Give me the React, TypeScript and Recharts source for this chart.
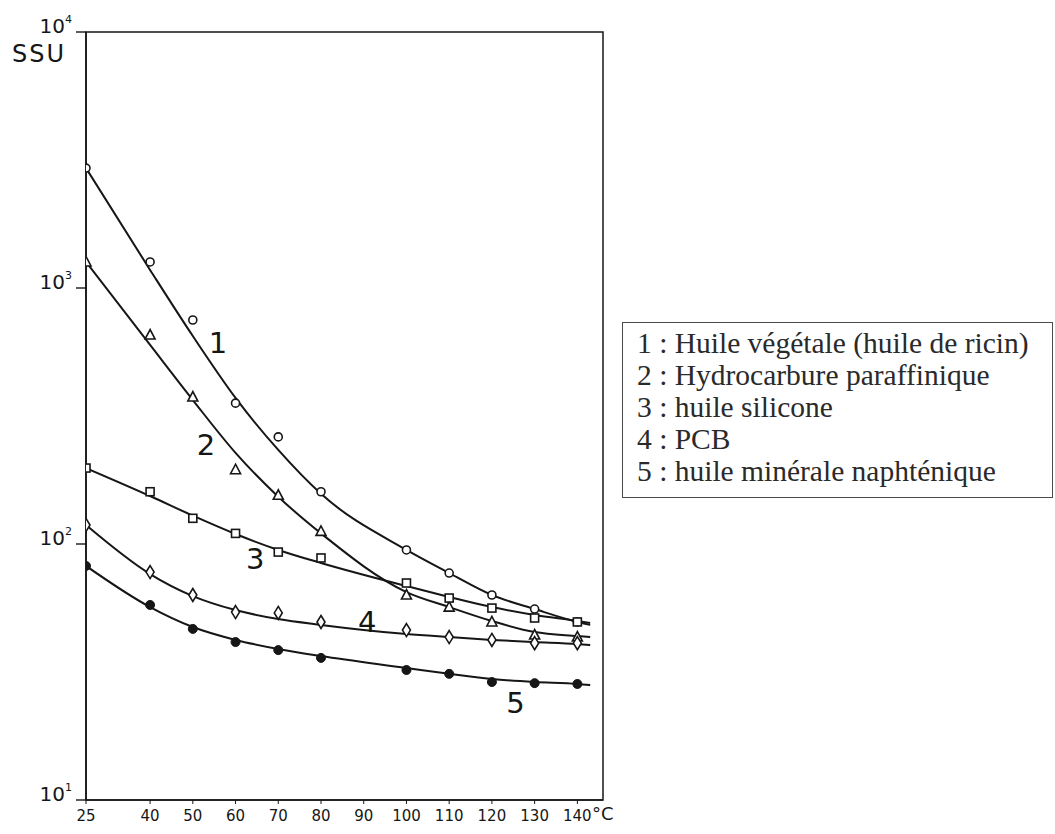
import React from "react";
import { ComposedChart, Line, XAxis, YAxis, ReferenceArea, ReferenceDot } from "recharts";

// temperatures (°C) of the measured points
const temps = [25, 40, 50, 60, 70, 80, 100, 110, 120, 130, 140];
// temperatures at which the hand-drawn curves were read
const curveTemps = [25, 40, 50, 60, 70, 80, 100, 110, 120, 130, 140, 143];

const xTicks = [25, 40, 50, 60, 70, 80, 90, 100, 110, 120, 130, 140];
const yTicks = [10, 100, 1000, 10000];

// measured viscosities (SSU)
const ricinPts = [2940, 1264, 750, 355, 262, 160, 94.8, 77, 63.2, 55.7, 49.6];
const paraffinPts = [1264, 655, 375, 195, 155, 112, 63.2, 56.7, 49.6, 44.1, 43.3];
const siliconePts = [198, 160, 126, 110, 93, 88.2, 70.4, 61.5, 56.2, 51.4, 49.6];
const pcbPts = [118.6, 77.7, 63.2, 54.2, 53.8, 49.6, 46.1, 43.3, 42.2, 41, 41];
const naphPts = [82.1, 57.8, 46.6, 41.4, 38.5, 35.9, 32.2, 31.1, 28.9, 28.6, 28.4];

// smooth curves as drawn through the points (SSU)
const ricinCurve = [2940, 1176, 649, 372, 233, 157, 94.8, 77, 63.2, 55.7, 49.6, 48.3];
const paraffinCurve = [1264, 599, 365, 227, 153, 110, 64.9, 56.7, 50, 45.3, 43.7, 43.3];
const siliconeCurve = [198, 154, 129, 109.4, 94.8, 84.3, 68.5, 62.1, 56.7, 52.8, 50, 49.1];
const pcbCurve = [118.6, 76.3, 62.6, 55.2, 50.9, 48.3, 44.5, 43.3, 42.2, 41.4, 40.7, 40.3];
const naphCurve = [82.1, 56.7, 47.4, 42.2, 38.9, 36.5, 32.8, 31.1, 29.7, 28.9, 28.4, 28.1];

const legendItems = [
  "1 : Huile végétale (huile de ricin)",
  "2 : Hydrocarbure paraffinique",
  "3 : huile silicone",
  "4 : PCB",
  "5 : huile minérale naphténique",
];

// curve numbers written next to each curve
const curveLabels = [
  { text: "1", t: 55.9, v: 610 },
  { text: "2", t: 53.1, v: 244 },
  { text: "3", t: 64.6, v: 88 },
  { text: "4", t: 90.8, v: 49.6 },
  { text: "5", t: 125.5, v: 23.9 },
];

const INK = "#161616";
const HAND = "'DejaVu Sans', sans-serif";

const rows = (xs: number[], ys: number[]) => xs.map((t, i) => ({ t, v: ys[i] }));

type Marker = "circle" | "triangle" | "square" | "diamond" | "dot";

const markerDot = (kind: Marker) => (props: any) => {
  const { cx, cy, index } = props;
  const key = `${kind}-${index}`;
  if (cx == null || cy == null) return <g key={key} />;
  const common = { stroke: INK, strokeWidth: 1.6, fill: "#fff" };
  switch (kind) {
    case "circle":
      return <circle key={key} cx={cx} cy={cy} r={4} {...common} />;
    case "triangle":
      return (
        <polygon
          key={key}
          points={`${cx},${cy - 5.5} ${cx - 5},${cy + 4} ${cx + 5},${cy + 4}`}
          {...common}
        />
      );
    case "square":
      return <rect key={key} x={cx - 4} y={cy - 4} width={8} height={8} {...common} />;
    case "diamond":
      return (
        <polygon
          key={key}
          points={`${cx},${cy - 6.5} ${cx + 4},${cy} ${cx},${cy + 6.5} ${cx - 4},${cy}`}
          {...common}
        />
      );
    default:
      return <circle key={key} cx={cx} cy={cy} r={4.5} fill={INK} stroke={INK} />;
  }
};

function PowerTick({ x, y, payload }: any) {
  const exp = Math.round(Math.log10(payload.value));
  return (
    <text x={x - 2} y={y + 1} textAnchor="end" fontFamily={HAND} fontSize={20} fill={INK}>
      10
      <tspan dy={-10} fontSize={11}>
        {exp}
      </tspan>
    </text>
  );
}

const series = [
  { id: "ricin", pts: ricinPts, curve: ricinCurve, marker: "circle" as Marker },
  { id: "paraffin", pts: paraffinPts, curve: paraffinCurve, marker: "triangle" as Marker },
  { id: "silicone", pts: siliconePts, curve: siliconeCurve, marker: "square" as Marker },
  { id: "pcb", pts: pcbPts, curve: pcbCurve, marker: "diamond" as Marker },
  { id: "naph", pts: naphPts, curve: naphCurve, marker: "dot" as Marker },
];

export default function App() {
  return (
    <div
      style={{
        position: "absolute",
        left: 0,
        top: 0,
        width: 1055,
        height: 834,
        background: "#fff",
        overflow: "hidden",
      }}
    >
      <ComposedChart
        width={1055}
        height={834}
        margin={{ top: 32, right: 452, bottom: 4, left: 26 }}
      >
        <XAxis
          dataKey="t"
          type="number"
          domain={[25, 146]}
          ticks={xTicks}
          allowDataOverflow
          height={30}
          axisLine={{ stroke: INK, strokeWidth: 1.6 }}
          tickLine={{ stroke: INK }}
          tickSize={4}
          tickMargin={6}
          tick={{ fontFamily: HAND, fontSize: 15, fill: INK }}
        />
        <YAxis
          type="number"
          scale="log"
          domain={[10, 10000]}
          ticks={yTicks}
          allowDataOverflow
          width={60}
          axisLine={{ stroke: INK, strokeWidth: 1.6 }}
          tickLine={{ stroke: INK, strokeWidth: 1.4 }}
          tickSize={10}
          tickMargin={2}
          tick={<PowerTick />}
        />
        <ReferenceArea
          x1={25}
          x2={146}
          y1={10}
          y2={10000}
          fill="none"
          stroke={INK}
          strokeWidth={1.5}
          fillOpacity={0}
        />
        {series.map((s) => (
          <Line
            key={`${s.id}-curve`}
            data={rows(curveTemps, s.curve)}
            dataKey="v"
            type="monotone"
            stroke={INK}
            strokeWidth={2}
            dot={false}
            activeDot={false}
            isAnimationActive={false}
          />
        ))}
        {series.map((s) => (
          <Line
            key={`${s.id}-pts`}
            data={rows(temps, s.pts)}
            dataKey="v"
            stroke="none"
            dot={markerDot(s.marker)}
            activeDot={false}
            isAnimationActive={false}
          />
        ))}
        {curveLabels.map((l) => (
          <ReferenceDot
            key={l.text}
            x={l.t}
            y={l.v}
            r={0}
            fill="none"
            stroke="none"
            label={{ value: l.text, position: "center", fontSize: 29, fill: INK, fontFamily: HAND }}
          />
        ))}
      </ComposedChart>

      <div
        style={{
          position: "absolute",
          left: 12,
          top: 40,
          fontFamily: HAND,
          fontSize: 24,
          color: INK,
          letterSpacing: 2,
        }}
      >
        SSU
      </div>
      <div
        style={{
          position: "absolute",
          left: 592,
          top: 803,
          fontFamily: HAND,
          fontSize: 18,
          color: INK,
        }}
      >
        °C
      </div>

      <div
        style={{
          position: "absolute",
          left: 622,
          top: 322,
          width: 431,
          height: 176,
          boxSizing: "border-box",
          border: "1.5px solid #4a4a4a",
          padding: "4px 0 0 14px",
          fontFamily: "'Liberation Serif', 'Times New Roman', serif",
          fontSize: 29.5,
          lineHeight: "32px",
          color: "#2a2a2a",
          whiteSpace: "nowrap",
        }}
      >
        {legendItems.map((item) => (
          <div key={item}>{item}</div>
        ))}
      </div>
    </div>
  );
}
